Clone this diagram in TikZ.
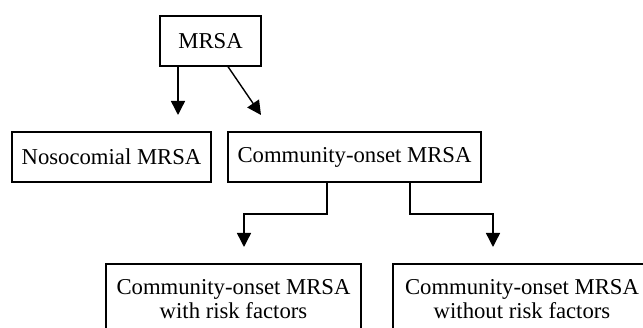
\documentclass[tikz,border=0pt]{standalone}
\usepackage{fontspec}
\setmainfont{Liberation Serif}
\usetikzlibrary{arrows.meta}
\begin{document}
\begin{tikzpicture}[x=1pt,y=-1pt,
  box/.style={draw, line width=1.3pt, inner sep=0pt, align=center,
    font=\fontsize{22.7}{23.5}\selectfont},
  arr/.style={line width=1.4pt, -{Triangle[length=14pt,width=14pt]}},
  link/.style={line width=1.2pt}]
\useasboundingbox (0,0) rectangle (643,328);
\clip (0,0) rectangle (643,328);
\node[box, minimum width=101pt, minimum height=50pt] (mrsa) at (210.5,41) {MRSA};
\node[box, minimum width=199pt, minimum height=50pt] (noso) at (111.5,157) {Nosocomial MRSA};
\node[box, minimum width=253pt, minimum height=50pt] (comm) at (354.5,157) {Community-onset MRSA};
\node[box, minimum width=255pt, minimum height=70pt] (with) at (233.5,299) {Community-onset MRSA\\with risk factors};
\node[box, minimum width=258pt, minimum height=70pt] (without) at (522,299) {Community-onset MRSA\\without risk factors};
\coordinate (t1) at (178,115);
\coordinate (t2) at (261,115);
\coordinate (s2) at (228,66);
\coordinate (b1) at (327,182);
\coordinate (b2) at (410,182);
\coordinate (t3) at (244,247);
\coordinate (t4) at (493,247);
\draw[arr] (mrsa.south -| t1) -- (t1);
\draw[arr] (mrsa.south -| s2) -- (t2);
\draw[link] (comm.south -| b1) -- (327,214) -- (244,214);
\draw[arr] (244,213.4) -- (t3);
\draw[link] (comm.south -| b2) -- (410,214) -- (493,214);
\draw[arr] (493,213.4) -- (t4);
\end{tikzpicture}
\end{document}
